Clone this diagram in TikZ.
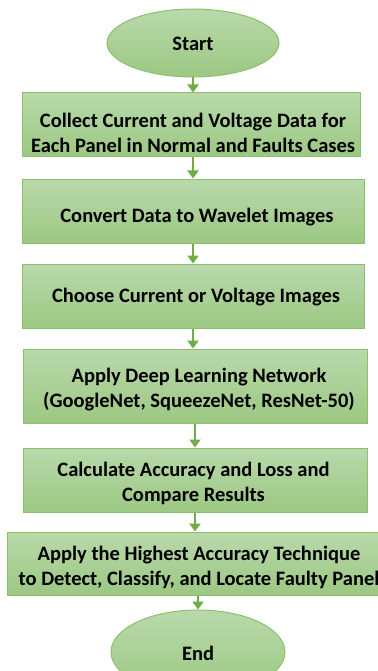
\documentclass[tikz,border=0pt]{standalone}
\usepackage{fontspec}
\setmainfont{Carlito}
\usetikzlibrary{arrows.meta,shapes.geometric}
\definecolor{gtop}{HTML}{B9D9AB}
\definecolor{gbot}{HTML}{9CC882}
\definecolor{gline}{HTML}{8CC06E}
\definecolor{garrow}{HTML}{70AD47}
\begin{document}
\begin{tikzpicture}[x=1pt,y=-1pt,
  txt/.style={font=\bfseries\fontsize{20.5}{25}\selectfont, text=black, align=center, inner sep=0pt},
  stepbox/.style={draw=gline, line width=1pt, top color=gtop, bottom color=gbot, inner sep=0pt},
  term/.style={ellipse, draw=gline, line width=1pt, top color=gtop, bottom color=gbot, inner sep=0pt},
  flow/.style={draw=garrow, line width=2pt, -{Triangle[length=8pt,width=11pt]}}]
\useasboundingbox (0,0) rectangle (377,671);
\node[term, minimum width=172pt, minimum height=68pt] (start) at (193,43) {};
\node[stepbox, minimum width=338pt, minimum height=64pt] (b1) at (191,125) {};
\node[stepbox, minimum width=342pt, minimum height=64pt] (b2) at (193,211) {};
\node[stepbox, minimum width=342pt, minimum height=64pt] (b3) at (193,296) {};
\node[stepbox, minimum width=344pt, minimum height=74pt] (b4) at (195,386) {};
\node[stepbox, minimum width=344pt, minimum height=64pt] (b5) at (195,480) {};
\node[stepbox, minimum width=384pt, minimum height=63pt] (b6) at (199,563.5) {};
\node[term, minimum width=174pt, minimum height=84pt] (end) at (198,652) {};
\node[txt] (t0) at (193,44) {Start};
\node[txt] (t1) at (193,133) {Collect Current and Voltage Data for\\Each Panel in Normal and Faults Cases};
\node[txt] (t2) at (197,217) {Convert Data to Wavelet Images};
\node[txt] (t3) at (196,297) {Choose Current or Voltage Images};
\node[txt] (t4) at (199,390) {Apply Deep Learning Network\\(GoogleNet, SqueezeNet, ResNet-50)};
\node[txt] (t5) at (193.5,483) {Calculate Accuracy and Loss and\\Compare Results};
\node[txt] (t6) at (199,567) {Apply the Highest Accuracy Technique\\to Detect, Classify, and Locate Faulty Panel};
\node[txt] (t7) at (198,653) {End};
\draw[flow] (start.south) -- (start.south |- b1.north);
\draw[flow] (b1.south -| start.south) -- (start.south |- b2.north);
\draw[flow] (b2.south) -- (b3.north);
\draw[flow] (b3.south) -- (b3.south |- b4.north);
\draw[flow] (b4.south) -- (b5.north);
\draw[flow] (b5.south) -- (b5.south |- b6.north);
\draw[flow] (b6.south -| end.north) -- (end.north);
\end{tikzpicture}
\end{document}
